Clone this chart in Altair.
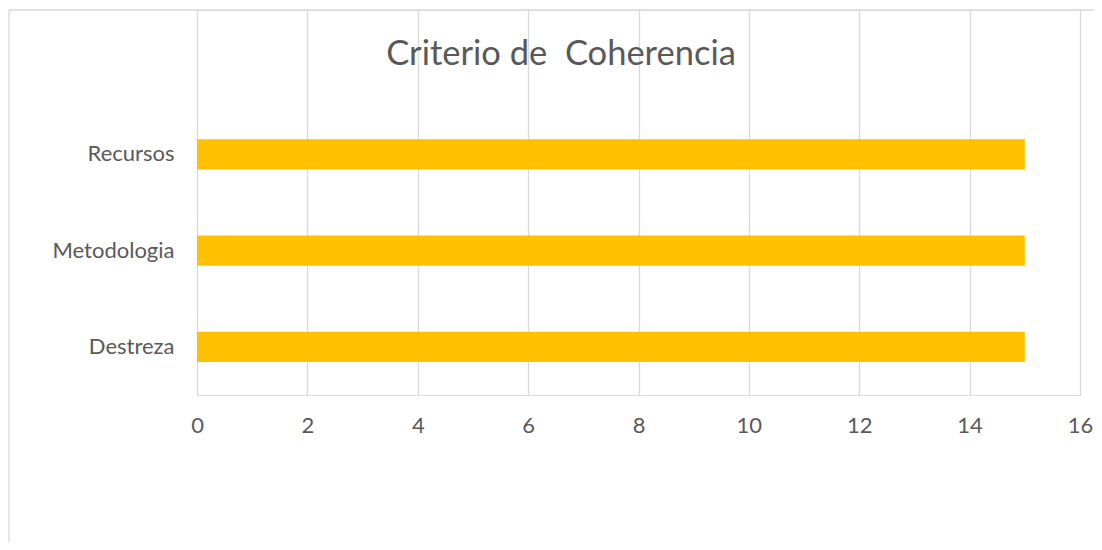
import altair as alt
import pandas as pd

categories = ["Recursos", "Metodologia", "Destreza"]
values = [15, 15, 15]
x_ticks = [0, 2, 4, 6, 8, 10, 12, 14, 16]
title_text = "Criterio de\u00a0 Coherencia"

df = pd.DataFrame({"categoria": categories, "valor": values})

FONT = "Lato"
TXT = "#595959"
GRID = "#d9d9d9"

W, H = 883, 385

# an empty slot above the bars leaves room for the title inside the plot area
y_domain = [""] + categories

bars = alt.Chart(df).mark_bar(color="#FFC000").encode(
    x=alt.X("valor:Q",
            scale=alt.Scale(domain=[0, 16], nice=False),
            axis=alt.Axis(values=x_ticks, title=None, grid=True, gridColor=GRID, gridWidth=1.3,
                          ticks=False, domain=False, labelFontSize=22, labelFont=FONT,
                          labelColor=TXT, labelPadding=20, labelFlush=False)),
    y=alt.Y("categoria:N",
            scale=alt.Scale(domain=y_domain, paddingInner=0.688, paddingOuter=0.344),
            axis=alt.Axis(title=None, ticks=False, domain=False, grid=False, labelFontSize=22,
                          labelFont=FONT, labelColor=TXT, labelPadding=23)),
)

one = alt.Data(values=[{}])
left_border = alt.Chart(one).mark_rule(color=GRID, strokeWidth=1.3).encode(
    x=alt.value(-188), y=alt.value(0), y2=alt.value(560))
top_border = alt.Chart(one).mark_rule(color=GRID, strokeWidth=1.3).encode(
    x=alt.value(-188), x2=alt.value(920), y=alt.value(0))

title = alt.Chart(alt.Data(values=[{"t": title_text}])).mark_text(
    font=FONT, fontSize=34.5, color=TXT, align="center", baseline="alphabetic"
).encode(text="t:N", x=alt.value(364), y=alt.value(55))

chart = alt.layer(left_border, top_border, bars, title).properties(
    width=W, height=H,
    autosize=alt.AutoSizeParams(type="none"),
    padding={"left": 189, "top": 2, "right": 14, "bottom": 147},
).configure_view(strokeWidth=0).configure(background="white")

chart.save("out.html", embed_options={"renderer": "svg", "actions": False})
